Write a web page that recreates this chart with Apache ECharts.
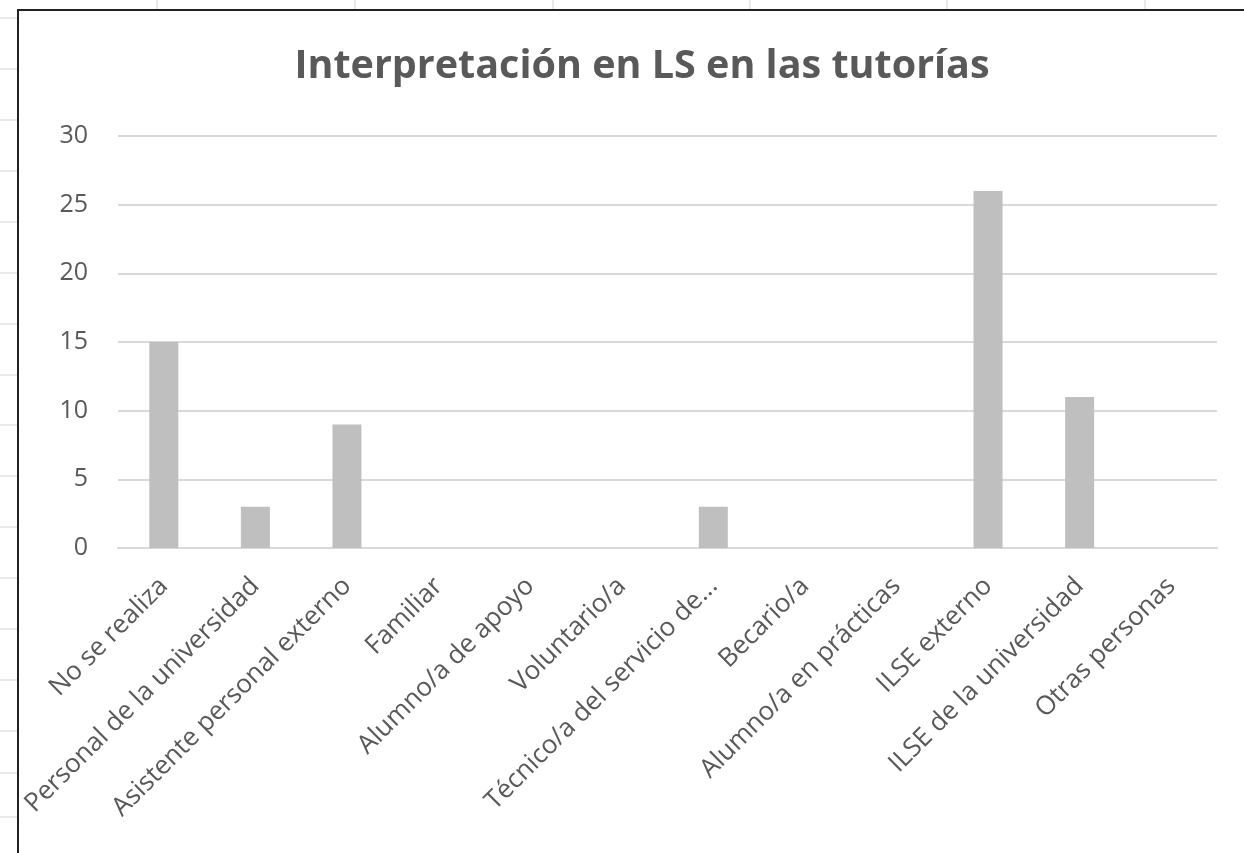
<!DOCTYPE html>
<html>
<head>
<meta charset="utf-8">
<script src="https://cdn.jsdelivr.net/npm/echarts@6/dist/echarts.min.js"></script>
<style>
  html, body { margin: 0; padding: 0; background: #fff; }
  #chart { width: 1244px; height: 853px; }
</style>
</head>
<body>
<div id="chart"></div>
<script>
const categories = [
  'No se realiza',
  'Personal de la universidad',
  'Asistente personal externo',
  'Familiar',
  'Alumno/a de apoyo',
  'Voluntario/a',
  'Técnico/a del servicio de...',
  'Becario/a',
  'Alumno/a en prácticas',
  'ILSE externo',
  'ILSE de la universidad',
  'Otras personas'
];
const values = [15, 3, 9, 0, 0, 0, 3, 0, 0, 26, 11, 0];
const yTicks = [0, 5, 10, 15, 20, 25, 30];

// spreadsheet cells behind the chart
const sheetCols = [157, 355, 553, 750, 947, 1145];
const sheetRows = [18, 69, 120, 171, 222, 273, 324, 375, 425, 476, 527, 578, 629, 680, 731, 773, 817];

const textColor = '#595959';
const font = 'Open Sans';

const chart = echarts.init(document.getElementById('chart'), null, { renderer: 'canvas' });

const bg = [];
sheetCols.forEach(function (x) {
  bg.push({ type: 'line', shape: { x1: x, y1: 0, x2: x, y2: 10 }, style: { stroke: '#d4d4d4', lineWidth: 1 }, z: -10 });
});
sheetRows.forEach(function (y) {
  bg.push({ type: 'line', shape: { x1: 0, y1: y, x2: 18, y2: y }, style: { stroke: '#d4d4d4', lineWidth: 1 }, z: -10 });
});
// chart border
bg.push({
  type: 'rect',
  shape: { x: 18, y: 10, width: 1260, height: 870 },
  style: { fill: '#fff', stroke: '#222', lineWidth: 2 },
  z: -5
});

const option = {
  animation: false,
  textStyle: { fontFamily: font },
  graphic: { elements: bg },
  title: {
    text: 'Interpretación en LS en las tutorías',
    left: 637,
    textAlign: 'center',
    top: 42,
    textStyle: { color: textColor, fontSize: 39.5, fontWeight: 'bold', fontFamily: font }
  },
  grid: { left: 118, right: 27, top: 136, bottom: 305, containLabel: false },
  xAxis: {
    type: 'category',
    data: categories,
    axisLine: { lineStyle: { color: '#d9d9d9', width: 2 } },
    axisTick: { show: false },
    axisLabel: {
      interval: 0,
      rotate: 45,
      margin: 34,
      color: textColor,
      fontSize: 26,
      fontFamily: font
    }
  },
  yAxis: {
    type: 'value',
    min: yTicks[0],
    max: yTicks[yTicks.length - 1],
    interval: 5,
    axisLine: { show: false },
    axisTick: { show: false },
    splitLine: { lineStyle: { color: '#d9d9d9', width: 2 } },
    axisLabel: { color: textColor, fontSize: 25, margin: 30, fontFamily: font }
  },
  series: [
    {
      type: 'bar',
      data: values,
      barWidth: 29,
      itemStyle: { color: '#bfbfbf' }
    }
  ]
};
chart.setOption(option);
</script>
</body>
</html>
